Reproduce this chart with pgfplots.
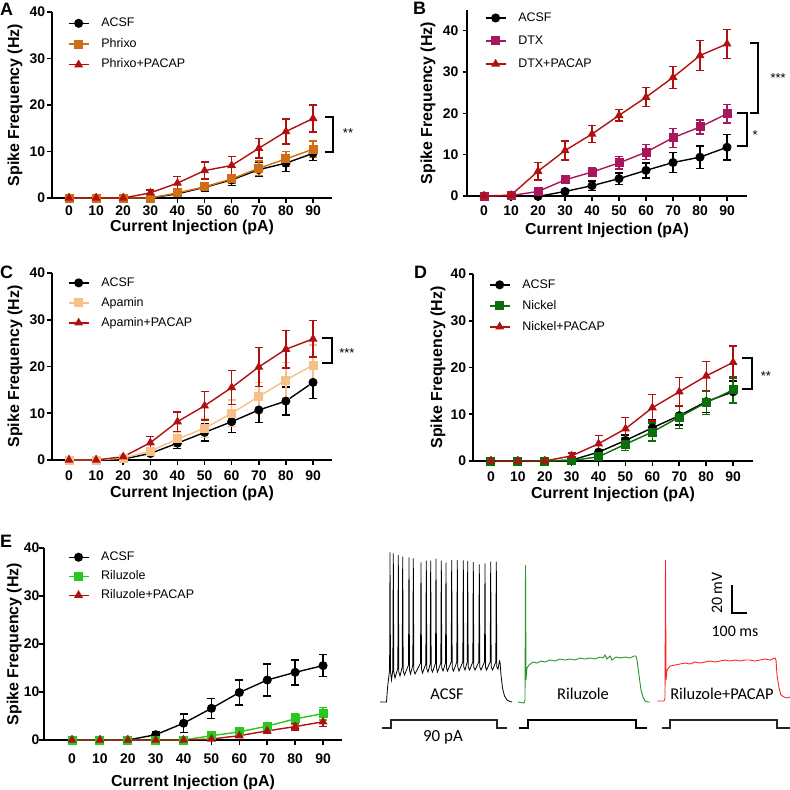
\documentclass[border=0pt]{standalone}
\usepackage{pgfplots}
\usepackage{pgfplotstable}
\pgfplotsset{compat=1.18}
\usepackage{fontspec}
\setmainfont{Liberation Sans}
\newfontfamily\calib{Carlito}

\definecolor{pacap}{RGB}{176,16,16}
\definecolor{phrixo}{RGB}{207,110,20}
\definecolor{dtx}{RGB}{168,22,92}
\definecolor{apamin}{RGB}{247,192,135}
\definecolor{nickel}{RGB}{10,110,10}
\definecolor{riluzole}{RGB}{40,200,30}
\definecolor{trgreen}{RGB}{40,150,40}
\definecolor{trred}{RGB}{255,35,35}

\pgfplotstableread{
x a ea b eb c ec
0 0 0 0 0 0 0
10 0 0 0 0 0 0
20 0 0 0 0 0 0
30 0 0.2 0 0.2 1.1 0.6
40 0.9 0.4 1.1 0.3 3.2 1.4
50 2.3 0.9 2.4 0.8 5.9 1.8
60 3.9 1.2 4.1 1.0 7.0 1.9
70 6.1 1.5 6.4 1.6 10.7 2.1
80 7.5 1.8 8.4 1.6 14.3 2.7
90 9.6 1.5 10.5 1.8 17.1 2.9
}\dataA

\pgfplotstableread{
x a ea b eb c ec
0 0 0 0 0 0 0
10 0 0 0.1 0 0.2 0.2
20 -0.1 0.2 1.1 0.3 6.0 2.1
30 1.1 0.4 3.9 0.6 11.0 2.3
40 2.5 1.1 5.8 1.1 15.0 2.0
50 4.2 1.4 8.0 1.5 19.5 1.4
60 6.2 1.8 10.6 1.8 23.9 2.3
70 8.1 2.4 14.1 2.3 28.7 2.7
80 9.4 2.7 16.7 1.7 34.0 3.6
90 11.8 3.1 19.9 2.2 36.8 3.5
}\dataB

\pgfplotstableread{
x a ea b eb c ec
0 0 0 0 0 0 0
10 0 0 0 0 0 0
20 0.2 0.1 0.4 0.2 0.7 0.3
30 1.4 0.5 1.9 0.6 3.7 1.3
40 3.6 1.2 4.5 1.5 8.2 2.1
50 5.9 1.8 6.8 2.0 11.6 3.0
60 8.2 2.3 10.0 2.8 15.5 3.6
70 10.7 2.7 13.6 3.0 19.9 4.2
80 12.6 3.0 17.1 3.8 23.7 4.0
90 16.6 3.4 20.3 4.3 25.9 3.9
}\dataC

\pgfplotstableread{
x a ea b eb c ec
0 0 0 0 0 0 0
10 0 0 0 0 0 0
20 0 0 0 0 0 0
30 0.2 0.2 0.1 0.2 1.1 0.6
40 1.9 0.6 0.9 0.6 3.7 1.8
50 4.4 1.2 3.6 1.3 6.9 2.4
60 7.1 1.7 6.2 1.9 11.4 2.8
70 9.7 2.0 9.4 2.4 14.8 3.0
80 12.7 2.3 12.5 2.5 18.2 3.1
90 14.8 2.3 15.2 2.8 21.1 3.5
}\dataD

\pgfplotstableread{
x a ea b eb c ec
0 0 0 0 0 0 0
10 0 0 0 0 0 0
20 0 0 0 0 0 0
30 1.1 0.7 0 0 0 0
40 3.5 1.9 0 0.1 0 0
50 6.6 2.1 0.9 0.3 0.2 0.2
60 9.9 2.6 1.7 0.4 0.9 0.3
70 12.5 3.3 2.9 0.7 1.9 0.5
80 14.1 2.6 4.4 1.1 2.8 0.7
90 15.5 2.3 5.5 1.3 3.8 1.0
}\dataE

\pgfplotsset{
  panel/.style={
    scale only axis, clip=false,
    axis lines=left,
    axis line style={-, line width=1.8bp},
    tick align=outside, major tick length=4.5bp,
    every tick/.style={black, line width=1.6bp},
    xtick={0,10,...,90}, ytick={0,10,20,30,40},
    ymin=0,
    /pgf/number format/assume math mode=true,
    tick label style={font=\fontsize{14}{14}\selectfont\bfseries},
    xticklabel style={anchor=center, inner sep=0pt},
    yticklabel style={anchor=east, inner sep=0pt},
    label style={font=\fontsize{16}{16}\selectfont\bfseries, inner sep=0pt},
    xlabel={Current Injection (pA)},
    ylabel={Spike Frequency (Hz)},
    legend cell align=left,
    legend style={draw=none, fill=none, inner sep=0pt, outer sep=0pt, anchor=north west,
      font=\fontsize{12.5}{12.5}\selectfont,
      nodes={inner sep=0pt, text height=9bp, text depth=2.5bp}},
    legend image code/.code={
      \draw[##1] (0bp,0bp) -- (20bp,0bp);
      \draw[##1] plot coordinates {(10bp,0bp)};
      \path (32bp,0bp);
    },
  },
  ser/.style={color=#1, line width=1.4bp, mark size=3.8bp, mark options={solid},
    error bars/y dir=both, error bars/y explicit,
    error bars/error bar style={line width=1.4bp},
    error bars/error mark=-,
    error bars/error mark options={rotate=90, line width=1.4bp, mark size=4bp}},
}

\begin{document}
\begin{tikzpicture}
\path[use as bounding box] (0,0) rectangle (790bp,-790bp);

% panel letters
\node[anchor=base west, inner sep=0pt, font=\fontsize{18}{18}\selectfont\bfseries] at (0bp,-15bp) {A};
\node[anchor=base west, inner sep=0pt, font=\fontsize{18}{18}\selectfont\bfseries] at (413bp,-14bp) {B};
\node[anchor=base west, inner sep=0pt, font=\fontsize{18}{18}\selectfont\bfseries] at (0bp,-278bp) {C};
\node[anchor=base west, inner sep=0pt, font=\fontsize{18}{18}\selectfont\bfseries] at (414bp,-278bp) {D};
\node[anchor=base west, inner sep=0pt, font=\fontsize{18}{18}\selectfont\bfseries] at (0bp,-547bp) {E};

% ---------------- A
\begin{axis}[panel, at={(52bp,-198bp)}, anchor=south west, width=280bp, height=186bp,
  xmin=-6.27, xmax=97, ymax=40,
  xticklabel style={yshift=-8bp},
  yticklabel style={xshift=-2.2bp},
  xlabel style={at={(axis description cs:0.5,-0.16)}, anchor=center},
  ylabel style={at={(axis description cs:-0.132,0.5)}, anchor=center},
  legend style={at={(axis description cs:0.057,0.97)}, row sep=9.2bp}]
\addplot[mark=*, ser=black] table[x=x, y=a, y error=ea]{\dataA};
\addplot[mark=square*, ser=phrixo] table[x=x, y=b, y error=eb]{\dataA};
\addplot[mark=triangle*, ser=pacap] table[x=x, y=c, y error=ec]{\dataA};
\legend{ACSF, Phrixo, Phrixo+PACAP}
\draw[line width=2bp] (axis cs:94.4,17.4) -| (axis cs:97.4,9.9) -- (axis cs:94.4,9.9);
\node[font=\fontsize{13}{13}\selectfont] at (axis cs:102.9,13.9) {**};
\end{axis}

% ---------------- B
\begin{axis}[panel, at={(467bp,-196bp)}, anchor=south west, width=280bp, height=186bp,
  xmin=-6.3, xmax=97.4, ymax=45,
  xticklabel style={yshift=-10.5bp},
  yticklabel style={xshift=-3.8bp},
  xlabel style={at={(axis description cs:0.5,-0.183)}, anchor=center},
  ylabel style={at={(axis description cs:-0.139,0.5)}, anchor=center},
  legend style={at={(axis description cs:0.064,0.988)}, row sep=11.5bp}]
\addplot[mark=*, ser=black] table[x=x, y=a, y error=ea]{\dataB};
\addplot[mark=square*, ser=dtx] table[x=x, y=b, y error=eb]{\dataB};
\addplot[mark=triangle*, ser=pacap] table[x=x, y=c, y error=ec]{\dataB};
\legend{ACSF, DTX, DTX+PACAP}
\draw[line width=2bp] (axis cs:98.5,37.1) -| (axis cs:101.5,20) -- (axis cs:98.5,20);
\draw[line width=2bp] (axis cs:93.7,20) -| (axis cs:97.4,12) -- (axis cs:93.7,12);
\node[font=\fontsize{13}{13}\selectfont] at (axis cs:108.9,28.5) {***};
\node[font=\fontsize{13}{13}\selectfont] at (axis cs:100.4,14.7) {*};
\end{axis}

% ---------------- C
\begin{axis}[panel, at={(52bp,-460bp)}, anchor=south west, width=280bp, height=187bp,
  xmin=-6.27, xmax=97, ymax=40,
  xticklabel style={yshift=-11.5bp},
  yticklabel style={xshift=-2.2bp},
  xlabel style={at={(axis description cs:0.5,-0.18)}, anchor=center},
  ylabel style={at={(axis description cs:-0.132,0.5)}, anchor=center},
  legend style={at={(axis description cs:0.057,0.978)}, row sep=8.5bp}]
\addplot[mark=*, ser=black] table[x=x, y=a, y error=ea]{\dataC};
\addplot[mark=square*, ser=apamin] table[x=x, y=b, y error=eb]{\dataC};
\addplot[mark=triangle*, ser=pacap] table[x=x, y=c, y error=ec]{\dataC};
\legend{ACSF, Apamin, Apamin+PACAP}
\draw[line width=2bp] (axis cs:93.3,26.1) -| (axis cs:97.0,20.7) -- (axis cs:93.3,20.7);
\node[font=\fontsize{13}{13}\selectfont] at (axis cs:102.5,22.8) {***};
\end{axis}

% ---------------- D
\begin{axis}[panel, at={(473bp,-461bp)}, anchor=south west, width=280bp, height=187bp,
  xmin=-6.67, xmax=97.4, ymax=40,
  xticklabel style={yshift=-11.5bp},
  yticklabel style={xshift=-2.2bp},
  xlabel style={at={(axis description cs:0.5,-0.18)}, anchor=center},
  ylabel style={at={(axis description cs:-0.125,0.5)}, anchor=center},
  legend style={at={(axis description cs:0.057,0.973)}, row sep=9.5bp}]
\addplot[mark=*, ser=black] table[x=x, y=a, y error=ea]{\dataD};
\addplot[mark=square*, ser=nickel] table[x=x, y=b, y error=eb]{\dataD};
\addplot[mark=triangle*, ser=pacap] table[x=x, y=c, y error=ec]{\dataD};
\legend{ACSF, Nickel, Nickel+PACAP}
\draw[line width=2bp] (axis cs:93.3,22.0) -| (axis cs:97.0,15.4) -- (axis cs:93.3,15.4);
\node[font=\fontsize{13}{13}\selectfont] at (axis cs:102.2,18.1) {**};
\end{axis}

% ---------------- E
\begin{axis}[panel, at={(44bp,-740bp)}, anchor=south west, width=298bp, height=192bp,
  xmin=-10.04, xmax=96.8, ymax=40,
  xticklabel style={yshift=-14.5bp},
  yticklabel style={xshift=0bp},
  xlabel style={at={(axis description cs:0.5,-0.219)}, anchor=center},
  ylabel style={at={(axis description cs:-0.1,0.5)}, anchor=center},
  legend style={at={(axis description cs:0.08,0.982)}, row sep=7.5bp}]
\addplot[mark=*, ser=black] table[x=x, y=a, y error=ea]{\dataE};
\addplot[mark=square*, ser=riluzole] table[x=x, y=b, y error=eb]{\dataE};
\addplot[mark=triangle*, ser=pacap] table[x=x, y=c, y error=ec]{\dataE};
\legend{ACSF, Riluzole, Riluzole+PACAP}
\end{axis}

% ---------------- traces
\begin{axis}[at={(330bp,-790bp)}, anchor=south west, scale only axis, width=460bp, height=250bp,
  xmin=330, xmax=790, ymin=540, ymax=790, y dir=reverse, hide axis, clip=false]
\addplot[black, line width=0.8bp] coordinates {
(380,702) (386.5,702) (387.5,688) (389,675) (389.6,668) (390,552.3) (390.5,672) (391.5,680)
(392.8,670) (393.3,553.3) (393.8,672) (395,678) (397.8,668) (398.3,555) (398.8,672) (400,676)
(402.2,667) (402.7,556.7) (403.2,671) (404.5,675) (408.5,665) (409,557.3) (409.5,670) (410.5,674)
(412.8,665) (413.3,558.3) (413.8,670) (415,674) (420.5,663) (421,562.3) (421.5,669) (422.5,673)
(425.8,664) (426.3,560.7) (426.8,669) (428,672) (430.2,664) (430.7,560.7) (431.2,669) (432.5,672)
(435.5,663) (436,558.7) (436.5,668) (437.5,672) (440.8,663) (441.3,560.7) (441.8,668) (443,671)
(445.5,663) (446,562.7) (446.5,668) (447.5,671) (451.2,662) (451.7,560) (452.2,668) (453.5,671)
(456.8,662) (457.3,560) (457.8,667) (459,671) (462.8,662) (463.3,560.3) (463.8,667) (465,670)
(467.2,662) (467.7,561) (468.2,667) (469.5,670) (472.8,662) (473.3,562) (473.8,667) (475,670)
(478.8,662) (479.3,564.3) (479.8,667) (481,670) (484.5,662) (485,563.3) (485.5,667) (486.5,670)
(490.2,662) (490.7,561.7) (491.2,667) (492.5,670) (495.8,662) (496.3,561.7) (496.8,667) (498,669)
(499.5,661) (500,662) (501,675) (502.5,688) (504.5,696) (507,700) (510,701.5) (512,702)};
\addplot[trgreen, line width=0.9bp] coordinates {
(518,702) (524,703) (525,700) (525.5,565) (526,680) (527,668) (529,665) (533,662) (537,663)
(541,661) (545,662) (550,660) (555,661) (560,659) (565,660) (570,659) (575,660) (580,658)
(585,659) (590,658) (595,659) (600,657) (603,658) (605,655) (607,659) (610,656) (612,660)
(616,657) (620,658) (625,657) (630,658) (634,656) (636,656) (637,660) (639,675) (641,690)
(643,697) (645,701) (648,702) (650,702)};
\addplot[trred, line width=0.9bp] coordinates {
(657,701) (664,701) (665,698) (665.5,560) (666,680) (667,670) (670,666) (675,665) (680,664)
(685,663) (690,664) (695,662) (700,663) (705,662) (710,661) (715,662) (720,661) (725,660)
(730,661) (735,660) (740,661) (745,660) (750,660) (755,661) (760,660) (765,659) (770,660)
(775,658) (776,660) (777,675) (779,688) (781,695) (784,697) (787,698) (790,697)};
\addplot[black!85, line width=1.2bp] coordinates {(382,728) (391,728) (391,720) (497,720) (497,728) (507,728)};
\addplot[black, line width=1.2bp] coordinates {(519,728) (528,728) (528,720) (636,720) (636,728) (647,728)};
\addplot[black!85, line width=1.2bp] coordinates {(662,728) (670,728) (670,720) (777,720) (777,728) (790,728)};
\addplot[black, line width=2.6bp] coordinates {(732,585) (732,613) (747,613)};
\node[font=\calib\fontsize{16.5}{16.5}\selectfont] at (axis cs:447,694) {ACSF};
\node[font=\calib\fontsize{16.5}{16.5}\selectfont] at (axis cs:583,694) {Riluzole};
\node[font=\calib\fontsize{16.5}{16.5}\selectfont] at (axis cs:722,694) {Riluzole+PACAP};
\node[font=\calib\fontsize{17}{17}\selectfont] at (axis cs:443,737) {90 pA};
\node[font=\calib\fontsize{16}{16}\selectfont, rotate=90] at (axis cs:717,593) {20 mV};
\node[font=\calib\fontsize{16}{16}\selectfont] at (axis cs:735,631) {100 ms};
\end{axis}
\end{tikzpicture}
\end{document}
